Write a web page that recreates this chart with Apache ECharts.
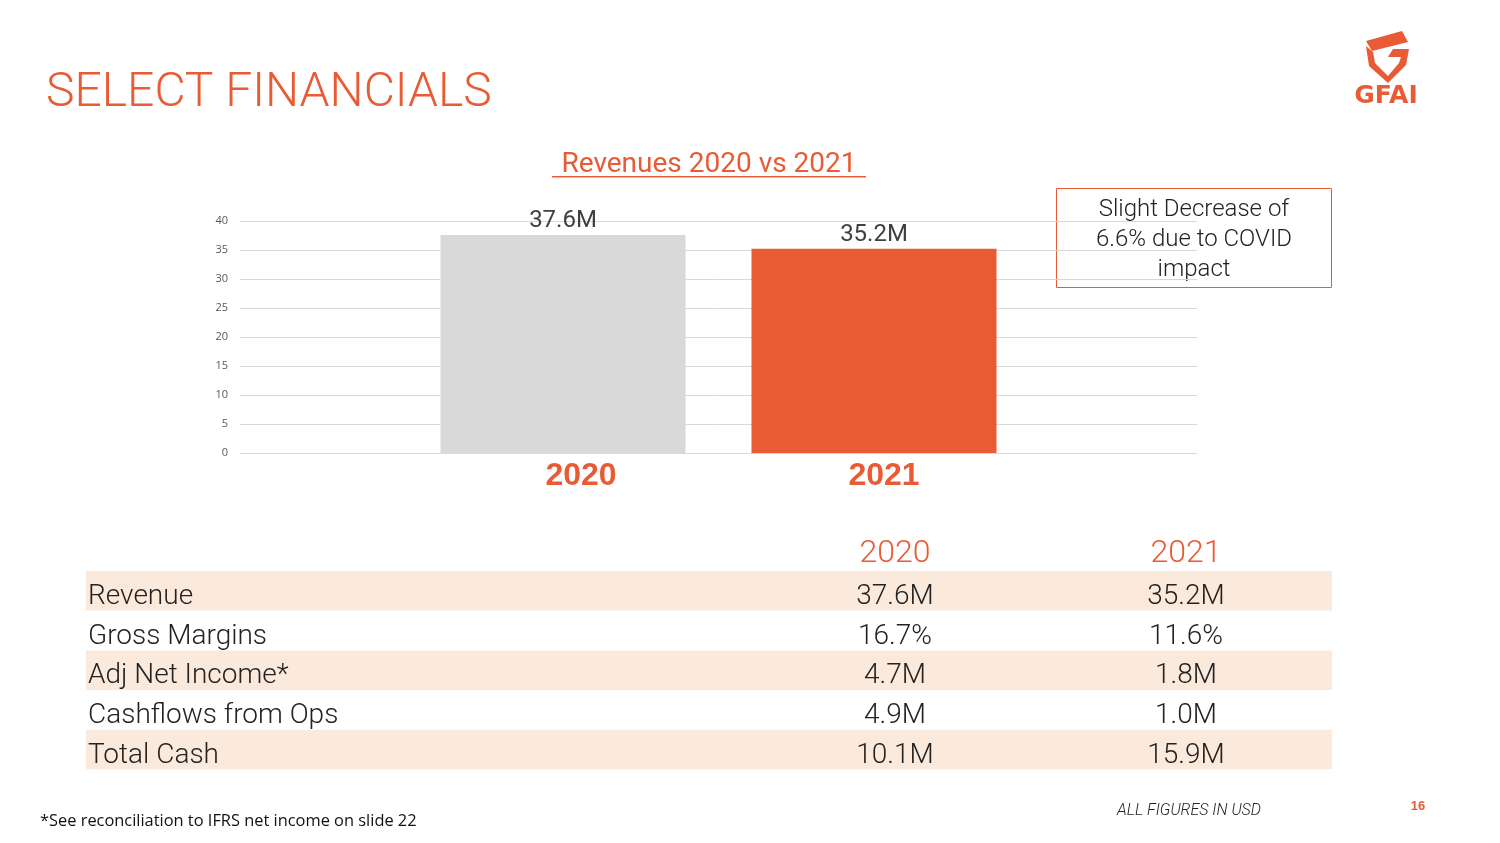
<!DOCTYPE html>
<html>
<head>
<meta charset="utf-8">
<script src="https://cdn.jsdelivr.net/npm/echarts@6/dist/echarts.min.js"></script>
<style>
html,body{margin:0;padding:0;background:#fff;}
#chart{width:1500px;height:843px;}
</style>
</head>
<body>
<div id="chart"></div>
<script>
// ---- data ----
var categories = ['2020', '2021'];
var revenue = [37.6, 35.2];
var revenueLabels = ['37.6M', '35.2M'];
var yTicks = [0, 5, 10, 15, 20, 25, 30, 35, 40];
var tableHeaders = ['2020', '2021'];
var tableRows = ['Revenue', 'Gross Margins', 'Adj Net Income*', 'Cashflows from Ops', 'Total Cash'];
var values2020 = ['37.6M', '16.7%', '4.7M', '4.9M', '10.1M'];
var values2021 = ['35.2M', '11.6%', '1.8M', '1.0M', '15.9M'];

// ---- styling ----
var ORANGE = '#E95B35';
var LIGHT = 'Roboto, "Liberation Sans", sans-serif';
var barColors = ['#D9D9D9', ORANGE];

var chart = echarts.init(document.getElementById('chart'), null, {renderer: 'canvas'});

function txt(x, y, s, font, fill, align) {
  return {type: 'text', x: x, y: y, style: {text: s, fill: fill, font: font, textAlign: align || 'left', textVerticalAlign: 'middle'}};
}

var graphics = [];
// slide title
graphics.push(txt(46, 94, 'SELECT FINANCIALS', '300 48px ' + LIGHT, ORANGE));
// chart title + underline
graphics.push(txt(709, 165, 'Revenues 2020 vs 2021', '400 28px ' + LIGHT, ORANGE, 'center'));
graphics.push({type: 'rect', shape: {x: 552, y: 176, width: 314, height: 1.5}, style: {fill: ORANGE}});

// annotation box
graphics.push({type: 'rect', shape: {x: 1056.5, y: 188.5, width: 275, height: 99}, style: {fill: '#fff', stroke: ORANGE, lineWidth: 1}});
graphics.push({type: 'text', x: 1194, y: 240, style: {text: 'Slight Decrease of\n6.6% due to COVID\nimpact', fill: '#222', font: '300 24px ' + LIGHT, textAlign: 'center', textVerticalAlign: 'middle', lineHeight: 30}});

// logo
graphics.push({type: 'polygon', shape: {points: [[1366,41],[1402,31],[1408,42],[1372,51]]}, style: {fill: ORANGE}});
graphics.push({type: 'polygon', shape: {points: [[1366,46],[1373,52],[1375,63],[1388,76],[1399,63],[1401,57],[1388,57],[1393,49],[1409,49],[1406,65],[1388,83],[1369,66]]}, style: {fill: ORANGE}});
graphics.push({type: 'text', x: 1386, y: 96, style: {text: 'GFAI', fill: ORANGE, font: 'bold 25px "DejaVu Sans", sans-serif', textAlign: 'center', textVerticalAlign: 'middle', letterSpacing: 1}});

// table
var col1 = 895, col2 = 1186;
graphics.push(txt(col1, 554, tableHeaders[0], '300 32px ' + LIGHT, ORANGE, 'center'));
graphics.push(txt(col2, 554, tableHeaders[1], '300 32px ' + LIGHT, ORANGE, 'center'));
tableRows.forEach(function (name, i) {
  var top = 571 + i * 39.7;
  if (i % 2 === 0) {
    graphics.push({type: 'rect', shape: {x: 86, y: top, width: 1246, height: 39.5}, style: {fill: '#FBE9DC'}});
  }
  var cy = top + 26;
  graphics.push(txt(88, cy, name, '300 28px ' + LIGHT, '#222'));
  graphics.push(txt(col1, cy, values2020[i], '300 28px ' + LIGHT, '#222', 'center'));
  graphics.push(txt(col2, cy, values2021[i], '300 28px ' + LIGHT, '#222', 'center'));
});

// footer
graphics.push(txt(40, 821, '*See reconciliation to IFRS net income on slide 22', '16.4px "Open Sans", sans-serif', '#111'));
graphics.push(txt(1117, 811, 'ALL FIGURES IN USD', 'italic 300 16px ' + LIGHT, '#222'));
graphics.push(txt(1418, 806, '16', 'bold 13px "Liberation Sans", sans-serif', ORANGE, 'center'));

var labelShift = [36, 20];

var option = {
  backgroundColor: '#fff',
  animation: false,
  grid: [
    {left: 240, right: 303, top: 221, bottom: 390},
    {left: 407.5, right: 470.5, top: 221, bottom: 390}
  ],
  xAxis: [
    {gridIndex: 0, type: 'category', data: categories, show: false},
    {gridIndex: 1, type: 'category', data: categories,
      axisLine: {show: false}, axisTick: {show: false},
      axisLabel: {
        margin: 7,
        formatter: function (v, i) { return '{l' + i + '|' + v + '}'; },
        rich: {
          l0: {color: ORANGE, fontSize: 32, fontWeight: 'bold', fontFamily: '"Liberation Sans", Arial, sans-serif', padding: [0, 0, 0, labelShift[0]]},
          l1: {color: ORANGE, fontSize: 32, fontWeight: 'bold', fontFamily: '"Liberation Sans", Arial, sans-serif', padding: [0, 0, 0, labelShift[1]]}
        }
      }}
  ],
  yAxis: [
    {gridIndex: 0, type: 'value', min: yTicks[0], max: yTicks[yTicks.length - 1], interval: yTicks[1] - yTicks[0],
      axisLine: {show: false}, axisTick: {show: false},
      axisLabel: {color: '#595959', fontSize: 11, fontFamily: '"Open Sans", sans-serif', margin: 12},
      splitLine: {lineStyle: {color: '#D9D9D9', width: 1}}},
    {gridIndex: 1, type: 'value', min: yTicks[0], max: yTicks[yTicks.length - 1], interval: yTicks[1] - yTicks[0], show: false, splitLine: {show: false}}
  ],
  series: [{
    type: 'bar',
    xAxisIndex: 1, yAxisIndex: 1,
    barWidth: 245,
    data: revenue.map(function (v, i) { return {value: v, itemStyle: {color: barColors[i]}}; }),
    label: {
      show: true, position: 'top', distance: 2,
      color: '#404040', fontSize: 24, fontFamily: LIGHT,
      formatter: function (p) { return revenueLabels[p.dataIndex]; }
    }
  }],
  graphic: graphics
};
chart.setOption(option);
</script>
</body>
</html>
